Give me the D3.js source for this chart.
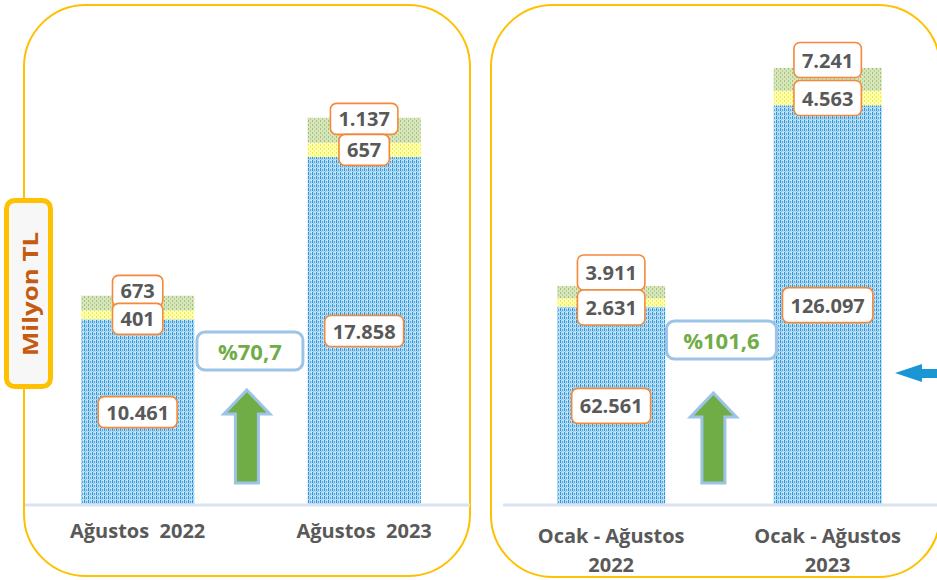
<!DOCTYPE html>
<html>
<head>
<meta charset="utf-8">
<script src="https://cdn.jsdelivr.net/npm/d3@7"></script>
<style>
  html, body { margin: 0; padding: 0; background: #ffffff; }
  svg { display: block; font-family: "Open Sans", "Noto Sans", sans-serif; }
</style>
</head>
<body>
<svg id="chart" width="937" height="580"></svg>
<script>
// ---------------- data ----------------
const categoriesLeft = ["Ağustos  2022", "Ağustos  2023"];
const categoriesRight = [["Ocak - Ağustos", "2022"], ["Ocak - Ağustos", "2023"]];
const blueLeft = [10461, 17858];
const yellowLeft = [401, 657];
const greenLeft = [673, 1137];
const blueRight = [62561, 126097];
const yellowRight = [2631, 4563];
const greenRight = [3911, 7241];
const growthLabels = ["%70,7", "%101,6"];
const unitLabel = "Milyon TL";

// ---------------- setup ----------------
const svg = d3.select("#chart");
const trLocale = d3.formatLocale({decimal: ",", thousands: ".", grouping: [3], currency: ["", " TL"]});
const fmt = trLocale.format(",d");

const defs = svg.append("defs");
function makePattern(id, bg, dots) {
  const p = defs.append("pattern").attr("id", id).attr("patternUnits", "userSpaceOnUse")
    .attr("width", 4).attr("height", 4);
  p.append("rect").attr("width", 4).attr("height", 4).attr("fill", bg);
  dots.forEach(d => p.append("rect").attr("x", d[0]).attr("y", d[1]).attr("width", d[2]).attr("height", d[3]).attr("fill", d[4]));
}
makePattern("pBlue", "#B4DAF4", [[0,0,1,3,"#2C97D6"],[2,1,1,2,"#55ADE2"],[1,3,1,1,"#8CC6EC"],[3,0,1,1,"#DCEEFA"]]);
makePattern("pYellow", "#FFFFB0", [[0,0,1,2,"#F2EC3C"],[2,2,1,2,"#F6F065"]]);
makePattern("pGreen", "#D8E6BE", [[0,0,1,2,"#A2C176"],[2,2,1,2,"#B5CE90"]]);

const panelColor = "#FFC000";
const baseY = 505;

// ---------------- panels ----------------
svg.append("rect").attr("x", 24).attr("y", 5).attr("width", 446).attr("height", 571)
  .attr("rx", 62).attr("ry", 62).attr("fill", "none").attr("stroke", panelColor).attr("stroke-width", 2);
svg.append("rect").attr("x", 491).attr("y", 5).attr("width", 449).attr("height", 572)
  .attr("rx", 62).attr("ry", 62).attr("fill", "none").attr("stroke", panelColor).attr("stroke-width", 2);

defs.append("clipPath").attr("id", "clipPlot").append("rect")
  .attr("x", 0).attr("y", 0).attr("width", 937).attr("height", baseY);

function drawPanel(cfg) {
  const x = d3.scaleBand().domain(d3.range(cfg.blue.length)).range(cfg.xRange)
    .paddingInner(0.5).paddingOuter(0.25);
  const y = d3.scaleLinear().domain(cfg.yDomain).range(cfg.yRange);
  const g = svg.append("g");
  const series = [
    {vals: cfg.blue, fill: "url(#pBlue)"},
    {vals: cfg.yellow, fill: "url(#pYellow)"},
    {vals: cfg.green, fill: "url(#pGreen)"}
  ];
  const stacked = cfg.blue.map((b, i) => {
    const y0 = 0, y1 = b, y2 = b + cfg.yellow[i], y3 = y2 + cfg.green[i];
    return [[y0, y1], [y1, y2], [y2, y3]];
  });
  const barG = g.append("g").attr("clip-path", "url(#clipPlot)");
  series.forEach((s, si) => {
    barG.selectAll(null).data(stacked).enter().append("rect")
      .attr("x", (d, i) => x(i))
      .attr("width", x.bandwidth())
      .attr("y", d => y(d[si][1]))
      .attr("height", d => y(d[si][0]) - y(d[si][1]))
      .attr("fill", s.fill);
  });
  // baseline
  g.append("line").attr("x1", cfg.lineX[0]).attr("x2", cfg.lineX[1]).attr("y1", baseY).attr("y2", baseY)
    .attr("stroke", "#D9E3F1").attr("stroke-width", 3);

  // value labels
  function label(cx, cy, txt) {
    const t = g.append("text").attr("x", cx).attr("y", cy).attr("text-anchor", "middle")
      .attr("dominant-baseline", "central").attr("font-size", cfg.labelSize).attr("font-weight", 700)
      .attr("fill", "#595959").text(txt);
    const w = t.node().getComputedTextLength() + 16;
    g.insert("rect", "text:last-child").attr("x", cx - w / 2).attr("y", cy - cfg.boxH / 2)
      .attr("width", w).attr("height", cfg.boxH).attr("rx", 6).attr("ry", 6)
      .attr("fill", "#ffffff").attr("stroke", "#F4893C").attr("stroke-width", 1.6);
  }
  stacked.forEach((d, i) => {
    const cx = x(i) + x.bandwidth() / 2;
    const blueTop = y(d[0][1]);
    const blueBottom = Math.min(y(d[0][0]), baseY);
    label(cx, (blueTop + blueBottom) / 2, fmt(cfg.blue[i]));
    const yc = (y(d[1][0]) + y(d[1][1])) / 2 + cfg.yellowShift[i];
    label(cx, yc - cfg.boxH + cfg.greenShift[i], fmt(cfg.green[i]));
    label(cx, yc, fmt(cfg.yellow[i]));
  });

  // category labels
  cfg.cats.forEach((c, i) => {
    const cx = x(i) + x.bandwidth() / 2;
    const lines = Array.isArray(c) ? c : [c];
    lines.forEach((ln, li) => {
      g.append("text").attr("x", cx).attr("y", cfg.catY + li * 29).attr("text-anchor", "middle")
        .attr("font-size", 20).attr("font-weight", 700).attr("fill", "#595959")
        .attr("xml:space", "preserve").style("white-space", "pre").text(ln);
    });
  });

  // growth box + arrow
  const mid = (x(0) + x.bandwidth() + x(1)) / 2;
  const bx = mid + cfg.boxOff;
  g.append("text").attr("x", bx).attr("y", cfg.growthY).attr("text-anchor", "middle")
    .attr("dominant-baseline", "central").attr("font-size", 22).attr("font-weight", 700)
    .attr("fill", "#70AD47").text(cfg.growth);
  g.insert("rect", "text:last-child").attr("x", bx - cfg.growthW / 2).attr("y", cfg.growthY - 19)
    .attr("width", cfg.growthW).attr("height", 38).attr("rx", 8).attr("ry", 8)
    .attr("fill", "#ffffff").attr("stroke", "#9DC3E6").attr("stroke-width", 3);

  const ax = mid + cfg.arrowOff;
  const tip = cfg.arrowTip, headB = tip + 24, bot = 483, hw = 23, sw = 11.5;
  g.append("path")
    .attr("d", `M${ax},${tip} L${ax + hw},${headB} L${ax + sw},${headB} L${ax + sw},${bot} L${ax - sw},${bot} L${ax - sw},${headB} L${ax - hw},${headB} Z`)
    .attr("fill", "#70AD47").attr("stroke", "#9DC3E6").attr("stroke-width", 3).attr("stroke-linejoin", "miter");
}

drawPanel({
  blue: blueLeft, yellow: yellowLeft, green: greenLeft, cats: categoriesLeft, catY: 538,
  xRange: [24.4, 477.4], yDomain: [0, 20000], yRange: [548.7, 548.7 - 20000 * 0.02193],
  lineX: [25, 470], labelSize: 20, boxH: 31, yellowShift: [4, 0], greenShift: [3, 0],
  growth: growthLabels[0], growthW: 106, growthY: 351, boxOff: -1, arrowOff: -4, arrowTip: 390
});
drawPanel({
  blue: blueRight, yellow: yellowRight, green: greenRight, cats: categoriesRight, catY: 543,
  xRange: [502.9, 935.9], yDomain: [0, 140000], yRange: [505, 505 - 140000 * 0.00317],
  lineX: [503, 937], labelSize: 20, boxH: 35, yellowShift: [5, 0], greenShift: [0, -3],
  growth: growthLabels[1], growthW: 110, growthY: 340, boxOff: 2, arrowOff: -6, arrowTip: 393
});

// blue pointer arrow at right edge
svg.append("path")
  .attr("d", "M895,373 L922,364 L922,369 L940,369 L940,378 L922,378 L922,382 Z")
  .attr("fill", "#1A96D4");

// unit label
svg.append("rect").attr("x", 6.5).attr("y", 200.5).attr("width", 44).attr("height", 186)
  .attr("rx", 8).attr("ry", 8).attr("fill", "#F7F7F7").attr("stroke", "#FFC000").attr("stroke-width", 5);
svg.append("text").attr("transform", "translate(28.5,294) rotate(-90)")
  .attr("text-anchor", "middle").attr("dominant-baseline", "central")
  .attr("font-size", 22).attr("font-weight", 700).attr("fill", "#C55A11")
  .attr("textLength", 124).attr("lengthAdjust", "spacingAndGlyphs").text(unitLabel);
</script>
</body>
</html>
